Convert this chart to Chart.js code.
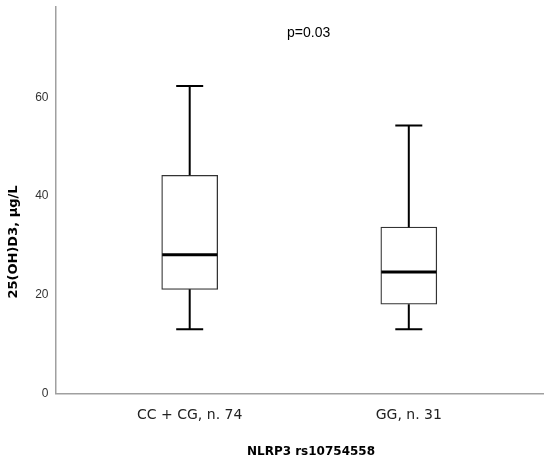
<!DOCTYPE html>
<html>
<head>
<meta charset="utf-8">
<script src="https://cdn.jsdelivr.net/npm/chart.js@4"></script>
<style>
html,body{margin:0;padding:0;background:#fff;}
#wrap{width:550px;height:464px;position:relative;}
</style>
</head>
<body>
<div id="wrap"><canvas id="c"></canvas></div>
<script>
const categories = ["CC + CG, n. 74", "GG, n. 31"];
const positions = [1, 2];
const whiskerMin = [13, 13];
const q1Values = [21.1, 18.1];
const medianValues = [28.1, 24.6];
const q3Values = [44.2, 33.7];
const whiskerMax = [62.3, 54.3];
const yTicks = [0, 20, 40, 60];
const yTitle = "25(OH)D3, µg/L";
const xTitle = "NLRP3 rs10754558";
const annotationText = "p=0.03";

const boxData = positions.map((p, i) => ({ x: p, y: [q1Values[i], q3Values[i]] }));

const boxPlugin = {
  id: 'boxParts',
  afterDatasetsDraw(chart) {
    const xs = chart.scales.x, ys = chart.scales.y, ctx = chart.ctx;
    ctx.save();
    ctx.strokeStyle = '#000';
    ctx.lineCap = 'butt';
    positions.forEach((p, i) => {
      const cx = xs.getPixelForValue(p);
      const half = 28, cap = 13.5;
      ctx.lineWidth = 2;
      ctx.beginPath();
      ctx.moveTo(cx, ys.getPixelForValue(q3Values[i]));
      ctx.lineTo(cx, ys.getPixelForValue(whiskerMax[i]));
      ctx.moveTo(cx, ys.getPixelForValue(q1Values[i]));
      ctx.lineTo(cx, ys.getPixelForValue(whiskerMin[i]));
      ctx.moveTo(cx - cap, ys.getPixelForValue(whiskerMax[i]));
      ctx.lineTo(cx + cap, ys.getPixelForValue(whiskerMax[i]));
      ctx.moveTo(cx - cap, ys.getPixelForValue(whiskerMin[i]));
      ctx.lineTo(cx + cap, ys.getPixelForValue(whiskerMin[i]));
      ctx.stroke();
      ctx.lineWidth = 3;
      ctx.beginPath();
      ctx.moveTo(cx - half + 0.5, ys.getPixelForValue(medianValues[i]));
      ctx.lineTo(cx + half - 0.5, ys.getPixelForValue(medianValues[i]));
      ctx.stroke();
    });
    ctx.fillStyle = '#000';
    ctx.font = '14px "Liberation Sans", Arial, sans-serif';
    ctx.textAlign = 'left';
    ctx.textBaseline = 'middle';
    ctx.fillText(annotationText, 287, 33);
    ctx.font = 'bold 12px "DejaVu Sans", sans-serif';
    ctx.textAlign = 'center';
    ctx.fillText(xTitle, 311, 452);
    ctx.font = 'bold 13px "DejaVu Sans", sans-serif';
    ctx.translate(14, 242);
    ctx.rotate(-Math.PI / 2);
    ctx.fillText(yTitle, 0, 0);
    ctx.restore();
  }
};

new Chart(document.getElementById('c'), {
  type: 'bar',
  data: {
    datasets: [{
      data: boxData,
      backgroundColor: '#ffffff',
      borderColor: '#333333',
      borderWidth: 1.3,
      borderSkipped: false,
      barThickness: 56
    }]
  },
  options: {
    responsive: true,
    maintainAspectRatio: false,
    animation: false,
    layout: { padding: { left: 0, right: 7, top: 7, bottom: 0 } },
    plugins: { legend: { display: false }, tooltip: { enabled: false } },
    scales: {
      x: {
        type: 'linear',
        offset: false,
        min: 0.3875,
        max: 2.6125,
        grid: { display: false, drawTicks: false, offset: false },
        border: { display: true, color: '#a0a0a0', width: 1.5 },
        afterBuildTicks(scale) { scale.ticks = positions.map(v => ({ value: v })); },
        afterFit(scale) { scale.height = 70.5; scale.paddingLeft = 0; scale.paddingRight = 0; },
        ticks: {
          padding: 13,
          color: '#222',
          font: { family: '"DejaVu Sans", sans-serif', size: 14 },
          callback(v) { const k = positions.indexOf(v); return k >= 0 ? categories[k] : ''; }
        }
      },
      y: {
        min: 0,
        max: 78.3,
        grid: { display: false, drawTicks: false },
        border: { display: true, color: '#a0a0a0', width: 1.5 },
        afterBuildTicks(scale) { scale.ticks = yTicks.map(v => ({ value: v })); },
        afterFit(scale) { scale.width = 55.5; scale.paddingTop = 0; scale.paddingBottom = 0; },
        ticks: {
          padding: 7,
          color: '#333',
          font: { family: '"Liberation Sans", Arial, sans-serif', size: 12 }
        }
      }
    }
  },
  plugins: [boxPlugin]
});
</script>
</body>
</html>
